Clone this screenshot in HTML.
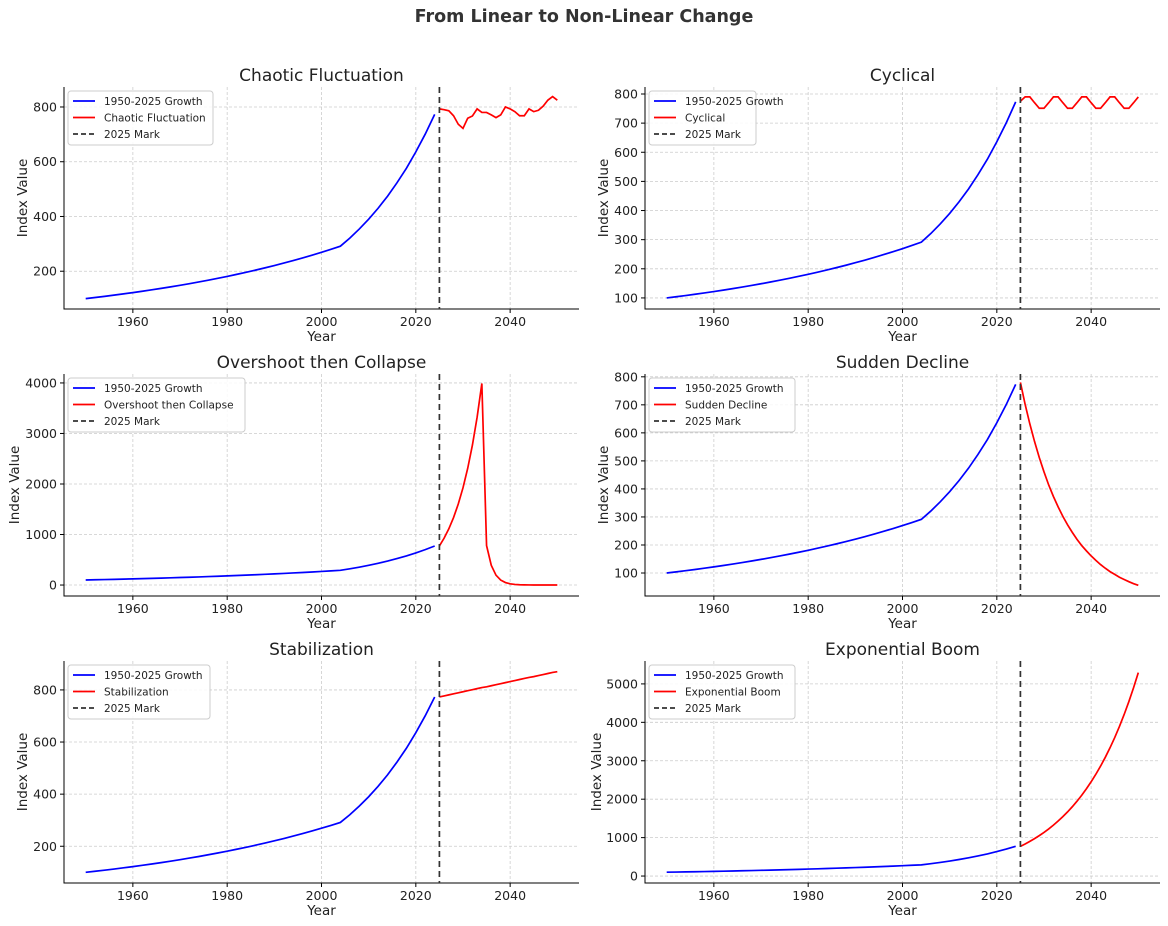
<!DOCTYPE html>
<html><head><meta charset="utf-8">
<style>
body{margin:0;background:#fff;}
svg{display:block;font-family:"DejaVu Sans","Liberation Sans",sans-serif;}
</style></head>
<body>
<svg id="chart" width="1168" height="926" viewBox="0 0 1168 926" xmlns="http://www.w3.org/2000/svg">
<text x="584" y="22" text-anchor="middle" font-size="17.5" font-weight="bold" fill="#333">From Linear to Non-Linear Change</text>
</svg>
<script>
const blueYears = [1950,1952,1954,1956,1958,1960,1962,1964,1966,1968,1970,1972,1974,1976,1978,1980,1982,1984,1986,1988,1990,1992,1994,1996,1998,2000,2002,2004,2006,2008,2010,2012,2014,2016,2018,2020,2022,2024];
const blueValues = [100,104,108.2,112.6,117.2,121.9,126.8,132,137.3,142.8,148.6,154.6,160.8,167.4,174.1,181.1,188.5,196.1,204,212.2,220.8,229.7,239,248.7,258.7,269.2,280,291.4,321,354,390,430,474,523,576,636,701,773];
const redYears = [2025,2026,2027,2028,2029,2030,2031,2032,2033,2034,2035,2036,2037,2038,2039,2040,2041,2042,2043,2044,2045,2046,2047,2048,2049,2050];
const chaoticValues = [793,790,786,768,737,722,759,767,793,780,780,771,761,771,800,793,783,768,768,793,783,788,803,825,838,825];
const cyclicalValues = [775,790,790,770,751,751,770,790,790,770,751,751,770,790,790,770,751,751,770,790,790,770,751,751,770,790];
const overshootValues = [773,928,1113,1336,1603,1924,2309,2770,3324,3989,780,390,195,98,49,24,12,6,3,2,1,0,0,0,0,0];
const declineValues = [780,702,632,569,512,461,414,373,336,302,272,245,220,198,179,161,145,130,117,105,95,85,77,69,62,56];
const stabilizationValues = [773,777,781,785,789,793,797,801,805,809,812,816,820,824,828,832,836,840,844,848,851,855,859,863,867,870];
const boomValues = [773,835,902,974,1052,1136,1227,1325,1431,1546,1669,1803,1947,2103,2271,2453,2649,2861,3090,3337,3604,3892,4204,4540,4903,5295];
const xTicks = [1960,1980,2000,2020,2040];
const panelTitles = ["Chaotic Fluctuation","Cyclical","Overshoot then Collapse","Sudden Decline","Stabilization","Exponential Boom"];
const yTicks1 = [200,400,600,800];
const yTicks2 = [100,200,300,400,500,600,700,800];
const yTicks3 = [0,1000,2000,3000,4000];
const yTicks4 = [100,200,300,400,500,600,700,800];
const yTicks5 = [200,400,600,800];
const yTicks6 = [0,1000,2000,3000,4000,5000];

const NS="http://www.w3.org/2000/svg";
const svg=document.getElementById('chart');
function mk(tag,attrs,parent){const e=document.createElementNS(NS,tag);for(const k in attrs)e.setAttribute(k,attrs[k]);(parent||svg).appendChild(e);return e;}
function slug(s){return s.toLowerCase().replace(/[^a-z0-9]+/g,'-');}

const panels=[
 {x0:64,y0:87,ymin:62,ymax:873,ticks:yTicks1,red:chaoticValues,ylx:27,legW:145},
 {x0:645,y0:87,ymin:62,ymax:824,ticks:yTicks2,red:cyclicalValues,ylx:608,legW:107},
 {x0:64,y0:374,ymin:-217,ymax:4177,ticks:yTicks3,red:overshootValues,ylx:19,legW:177},
 {x0:645,y0:374,ymin:18,ymax:810,ticks:yTicks4,red:declineValues,ylx:608,legW:146},
 {x0:64,y0:661,ymin:59,ymax:911,ticks:yTicks5,red:stabilizationValues,ylx:27,legW:142},
 {x0:645,y0:661,ymin:-181,ymax:5596,ticks:yTicks6,red:boomValues,ylx:601,legW:146}
];
const W=515,H=222,XMIN=1945.4,XMAX=2054.6;

panels.forEach((p,i)=>{
 const name=slug(panelTitles[i]);
 const g=mk('g',{});
 
 
 const X=v=>p.x0+(v-XMIN)/(XMAX-XMIN)*W;
 const Y=v=>p.y0+H-(v-p.ymin)/(p.ymax-p.ymin)*H;
 xTicks.forEach(t=>{
  const l=mk('line',{x1:X(t),x2:X(t),y1:p.y0,y2:p.y0+H,stroke:'#ccc','stroke-width':0.8,'stroke-dasharray':'3,2'},g);
  
  
  const tk=mk('line',{x1:X(t),x2:X(t),y1:p.y0+H,y2:p.y0+H+4,stroke:'#000','stroke-width':1},g);
  
  
  const tx=mk('text',{x:X(t),y:p.y0+H+17,'text-anchor':'middle','font-size':12.5,fill:'#222'},g);
  tx.textContent=t;
  
  
 });
 p.ticks.forEach(t=>{
  const l=mk('line',{x1:p.x0,x2:p.x0+W,y1:Y(t),y2:Y(t),stroke:'#ccc','stroke-width':0.8,'stroke-dasharray':'3,2'},g);
  
  
  const tk=mk('line',{x1:p.x0-4,x2:p.x0,y1:Y(t),y2:Y(t),stroke:'#000','stroke-width':1},g);
  
  
  const tx=mk('text',{x:p.x0-7,y:Y(t)+4.5,'text-anchor':'end','font-size':12.5,fill:'#222'},g);
  tx.textContent=t;
  
  
 });
 const sp=mk('path',{d:`M${p.x0},${p.y0}V${p.y0+H}H${p.x0+W}`,fill:'none',stroke:'#000','stroke-width':1},g);
 
 
 const bl=mk('polyline',{points:blueYears.map((y,k)=>X(y)+','+Y(blueValues[k])).join(' '),fill:'none',stroke:'#0000ff','stroke-width':1.7},g);
 
 
 const rl=mk('polyline',{points:redYears.map((y,k)=>X(y)+','+Y(p.red[k])).join(' '),fill:'none',stroke:'#ff0000','stroke-width':1.7},g);
 
 
 const vm=mk('line',{x1:X(2025),x2:X(2025),y1:p.y0,y2:p.y0+H,stroke:'#333','stroke-width':1.7,'stroke-dasharray':'6,4'},g);
 
 
 const tt=mk('text',{x:p.x0+W/2,y:p.y0-6,'text-anchor':'middle','font-size':17,fill:'#222'},g);
 tt.textContent=panelTitles[i];
 
 
 const xl=mk('text',{x:p.x0+W/2,y:p.y0+H+32,'text-anchor':'middle','font-size':13.5,fill:'#222'},g);
 xl.textContent='Year';
 
 
 const yl=mk('text',{x:p.ylx,y:p.y0+H/2,'text-anchor':'middle','font-size':13.5,fill:'#222',transform:`rotate(-90 ${p.ylx} ${p.y0+H/2})`},g);
 yl.textContent='Index Value';
 
 
 const lg=mk('g',{},g);
 
 
 mk('rect',{x:p.x0+4,y:p.y0+4,width:p.legW,height:54,rx:3,fill:'#fff','fill-opacity':0.85,stroke:'#ccc','stroke-width':1},lg);
 const entries=[['1950-2025 Growth','#0000ff',''],[panelTitles[i],'#ff0000',''],['2025 Mark','#333','5,3']];
 entries.forEach((e,k)=>{
  const ey=p.y0+14+k*16.5;
  const en=mk('g',{},lg);
  
  
  const ln=mk('line',{x1:p.x0+9,x2:p.x0+31,y1:ey,y2:ey,stroke:e[1],'stroke-width':1.7},en);
  if(e[2])ln.setAttribute('stroke-dasharray',e[2]);
  const t=mk('text',{x:p.x0+40,y:ey+4,'font-size':10.5,fill:'#222'},en);
  t.textContent=e[0];
 });
});
</script>
</body></html>
